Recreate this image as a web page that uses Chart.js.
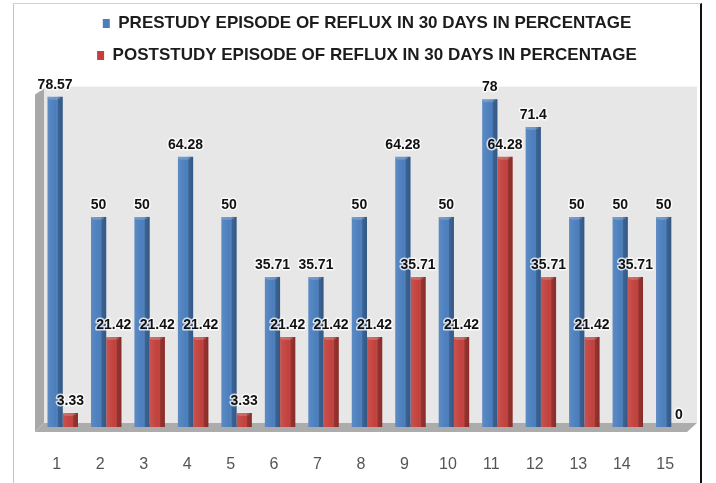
<!DOCTYPE html>
<html>
<head>
<meta charset="utf-8">
<script src="https://cdn.jsdelivr.net/npm/chart.js@4.4.1/dist/chart.umd.min.js"></script>
<style>
  html, body { margin: 0; padding: 0; background: #fff; }
  #wrap { position: relative; width: 716px; height: 483px; overflow: hidden; }
  #c { position: absolute; left: 0; top: 0; }
  #frame {
    position: absolute; left: 13px; top: 3px; width: 689px; height: 490px;
    border-left: 1px solid #c4c4c4; border-top: 1px solid #d2d2d2; border-right: 2px solid #111;
    box-sizing: border-box; pointer-events: none;
  }
</style>
</head>
<body>
<div id="wrap">
  <canvas id="c" width="716" height="483"></canvas>
  <div id="frame"></div>
</div>
<script>
// Subjects 1..15
const categories = ['1','2','3','4','5','6','7','8','9','10','11','12','13','14','15'];

// Episodes of reflux in 30 days, in percent
const prestudy  = [78.57, 50, 50, 64.28, 50, 35.71, 35.71, 50, 64.28, 50, 78, 71.4, 50, 50, 50];
const poststudy = [3.33, 21.42, 21.42, 21.42, 3.33, 21.42, 21.42, 21.42, 35.71, 21.42, 64.28, 35.71, 21.42, 35.71, 0];

const seriesNames = [
  'PRESTUDY EPISODE OF REFLUX IN 30 DAYS IN PERCENTAGE',
  'POSTSTUDY EPISODE OF REFLUX IN 30 DAYS IN PERCENTAGE'
];

const BLUE = '#4a7ebd';
const RED  = '#c2403c';

// Back wall, side wall and floor behind the bars
const roomPlugin = {
  id: 'room',
  beforeDatasetsDraw(chart) {
    const { ctx, chartArea: a, scales: { y } } = chart;
    const top = y.getPixelForValue(81);
    const base = y.getPixelForValue(0);
    const left = a.left + 3;
    const right = a.right + 4;
    ctx.save();
    // back wall
    ctx.fillStyle = '#e7e7e7';
    ctx.fillRect(left, top, right - left, base - 4 - top);
    // left side wall
    ctx.fillStyle = '#a8a8a8';
    ctx.beginPath();
    ctx.moveTo(left - 9, top + 8);
    ctx.lineTo(left, top + 2);
    ctx.lineTo(left, base - 4);
    ctx.lineTo(left - 9, base + 5);
    ctx.closePath();
    ctx.fill();
    // floor
    ctx.fillStyle = '#acacac';
    ctx.beginPath();
    ctx.moveTo(left - 9, base + 5);
    ctx.lineTo(left, base - 4);
    ctx.lineTo(right, base - 4);
    ctx.lineTo(right - 10, base + 5);
    ctx.closePath();
    ctx.fill();
    ctx.restore();
  }
};

// Cylinder-like shading on each bar and the value labels above them
const barDecorPlugin = {
  id: 'barDecor',
  afterDatasetsDraw(chart) {
    const { ctx } = chart;
    ctx.save();
    chart.data.datasets.forEach((ds, di) => {
      const meta = chart.getDatasetMeta(di);
      meta.data.forEach((el) => {
        const w = el.width;
        const l = el.x - w / 2;
        const h = el.base - el.y;
        if (h <= 0) return;
        const g = ctx.createLinearGradient(l, 0, l + w, 0);
        g.addColorStop(0, 'rgba(255,255,255,0.10)');
        g.addColorStop(0.55, 'rgba(255,255,255,0.0)');
        g.addColorStop(0.72, 'rgba(0,0,0,0.22)');
        g.addColorStop(1, 'rgba(0,0,0,0.30)');
        ctx.fillStyle = g;
        ctx.fillRect(l, el.y, w, h);
        // rounded top cap
        ctx.fillStyle = 'rgba(255,255,255,0.18)';
        ctx.beginPath();
        ctx.ellipse(el.x - 1, el.y + 1, w / 2 - 1, 2, 0, 0, Math.PI * 2);
        ctx.fill();
      });
    });
    ctx.font = 'bold 14px "Liberation Sans", Arial, sans-serif';
    ctx.textAlign = 'center';
    ctx.textBaseline = 'middle';
    ctx.lineJoin = 'round';
    chart.data.datasets.forEach((ds, di) => {
      const meta = chart.getDatasetMeta(di);
      meta.data.forEach((el, i) => {
        const txt = String(ds.data[i]);
        const ty = el.y - 12;
        ctx.lineWidth = 3;
        ctx.strokeStyle = 'rgba(255,255,255,0.75)';
        ctx.strokeText(txt, el.x, ty);
        ctx.fillStyle = '#111';
        ctx.fillText(txt, el.x, ty);
      });
    });
    ctx.restore();
  }
};

new Chart(document.getElementById('c'), {
  type: 'bar',
  data: {
    labels: categories,
    datasets: [
      { label: seriesNames[0], data: prestudy, backgroundColor: BLUE, borderWidth: 0 },
      { label: seriesNames[1], data: poststudy, backgroundColor: RED, borderWidth: 0 }
    ]
  },
  options: {
    responsive: false,
    animation: false,
    events: [],
    layout: { padding: { left: 41, right: 23, top: 0, bottom: 0 } },
    datasets: { bar: { categoryPercentage: 0.7, barPercentage: 1.0 } },
    scales: {
      x: {
        grid: { display: false, drawTicks: false },
        border: { display: false },
        ticks: {
          padding: 28,
          labelOffset: -6,
          color: '#555',
          font: { family: '"Liberation Sans", Arial, sans-serif', size: 16 }
        },
        afterFit(scale) { scale.height = 56; }
      },
      y: {
        display: false,
        min: 0,
        max: 84
      }
    },
    plugins: {
      legend: {
        position: 'top',
        align: 'center',
        labels: {
          boxWidth: 7,
          boxHeight: 9,
          padding: 15,
          color: '#1c1c1c',
          font: { family: '"Liberation Sans", Arial, sans-serif', size: 17, weight: 'bold' }
        }
      },
      tooltip: { enabled: false }
    }
  },
  plugins: [roomPlugin, barDecorPlugin]
});
</script>
</body>
</html>
